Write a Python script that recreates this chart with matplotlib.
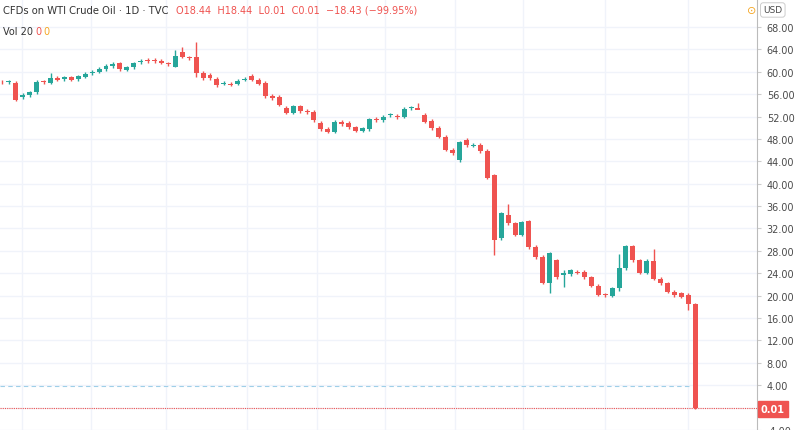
import matplotlib.pyplot as plt
from matplotlib.patches import Rectangle

# daily candles, open/close/high/low
opens = [58.2, 58.1, 58.0, 55.5, 55.8, 56.3, 58.3, 58.0, 58.9, 58.7, 59.0, 58.7, 59.1, 59.8, 60.0,
         60.5, 61.0, 61.5, 60.4, 60.8, 61.7, 62.1, 62.1, 62.0, 61.5, 60.9, 63.5, 62.6, 62.7, 59.8,
         59.4, 58.7, 57.9, 57.9, 57.9, 58.6, 59.3, 58.6, 58.0, 55.7, 55.5, 53.6, 52.7, 53.8, 53.0,
         52.9, 50.9, 49.8, 49.3, 51.0, 50.9, 50.1, 49.5, 49.8, 51.6, 51.3, 52.2, 52.1, 52.0, 53.5,
         53.5, 52.3, 51.2, 50.0, 48.4, 46.1, 44.2, 47.8, 46.8, 47.0, 45.9, 41.5, 30.3, 34.4, 32.9,
         30.9, 33.3, 28.7, 26.9, 22.3, 26.3, 23.7, 23.9, 24.3, 24.3, 23.3, 21.8, 20.2, 20.0, 21.3,
         24.9, 28.8, 26.3, 24.1, 26.2, 23.0, 22.2, 20.7, 20.4, 20.2, 18.44]
closes = [58.1, 58.3, 55.0, 55.9, 56.3, 58.2, 58.2, 58.9, 58.6, 59.0, 58.6, 59.2, 59.6, 60.0, 60.5,
          61.0, 61.4, 60.5, 60.8, 61.5, 62.0, 61.9, 61.9, 61.6, 61.4, 62.8, 62.7, 62.4, 59.8, 58.9,
          58.8, 57.6, 58.0, 57.7, 58.4, 58.7, 58.6, 57.9, 55.7, 55.3, 54.1, 52.7, 53.8, 53.0, 52.8,
          51.3, 49.7, 49.3, 51.0, 50.7, 50.1, 49.5, 49.9, 51.5, 51.3, 52.0, 52.4, 51.9, 53.4, 53.6,
          53.1, 51.1, 49.9, 48.4, 46.1, 45.4, 47.4, 46.9, 46.9, 45.8, 41.1, 29.9, 34.7, 32.9, 30.9,
          33.1, 28.7, 26.9, 22.3, 27.6, 23.3, 24.0, 24.5, 24.1, 23.3, 21.8, 20.2, 20.1, 21.3, 24.9,
          28.8, 26.3, 24.1, 26.2, 23.0, 22.2, 20.7, 20.1, 19.8, 18.5, 0.01]
# extra wick extents where visible (index: (high, low))
wicks = {7: (59.7, 57.8), 25: (63.9, 60.9), 26: (64.4, 62.5), 28: (65.3, 59.0), 71: (41.8, 27.2),
         73: (36.4, 32.6), 79: (27.8, 20.5), 81: (24.5, 21.5), 89: (27.5, 20.9), 94: (28.4, 22.8),
         60: (54.5, 53.3), 66: (47.6, 43.8), 99: (20.4, 17.5)}
vgrid = [2.9, 12.9, 23.6, 35.4, 45.4, 55.3, 65.3, 75.1, 87.0, 98.9]
yticks = list(range(-4, 72, 4))

GREEN, RED = '#26a69a', '#ef5350'

fig = plt.figure(figsize=(8, 4.31), dpi=100)
ax = fig.add_axes([0, 0, 757 / 800, 1])
ax.set_xlim(-0.29, 108.9)
ax.set_ylim(-3.7, 73.0)

for x in vgrid:
    ax.axvline(x, color='#f0f3fa', lw=1, zorder=0)
for t in yticks:
    ax.axhline(t, color='#f0f3fa', lw=1, zorder=0)

for i, (o, c) in enumerate(zip(opens, closes)):
    col = GREEN if c >= o else RED
    hi, lo = wicks.get(i, (max(o, c) + 0.3, min(o, c) - 0.3))
    ax.vlines(i, lo, hi, color=col, lw=1, zorder=2)
    h = max(abs(c - o), 0.12)
    ax.add_patch(Rectangle((i - 0.36, min(o, c)), 0.72, h, color=col, lw=0, zorder=3))

# price line and volume line
ax.axhline(0.01, color=RED, lw=0.8, ls=(0, (1, 1)), zorder=1)
ax.plot([-0.29, 99.5], [3.9, 3.9], color='#9fcfe8', lw=0.8, ls=(0, (4, 3)), zorder=1)

ax.set_yticks(yticks)
ax.yaxis.tick_right()
ax.set_yticklabels(['' if t == 0 else '%.2f' % t for t in yticks], fontsize=7, color='#4a4a4a')
ax.tick_params(axis='y', length=3, color='#cccccc', pad=4)
ax.set_xticks([])
for s in ['top', 'left', 'bottom']:
    ax.spines[s].set_visible(False)
ax.spines['right'].set_color('#bbbbbb')

ax.text(1.005, (0.01 + 3.7) / 76.7, '0.01', transform=ax.transAxes, fontsize=7,
        color='white', fontweight='bold', va='center', ha='left',
        bbox=dict(boxstyle='square,pad=0.3', fc=RED, ec=RED))
fig.text(0.966, 0.985, 'USD', fontsize=6.5, color='#4a4a4a', va='top', ha='center',
         bbox=dict(boxstyle='round,pad=0.3', fc='white', ec='#cccccc', lw=0.7))

fig.text(0.004, 0.975, 'CFDs on WTI Crude Oil · 1D · TVC', fontsize=7.2, color='#333333', va='center')
fig.text(0.22, 0.975, 'O18.44  H18.44  L0.01  C0.01  −18.43 (−99.95%)', fontsize=7,
         color=RED, va='center')
fig.text(0.004, 0.925, 'Vol 20', fontsize=7, color='#333333', va='center')
fig.text(0.044, 0.925, '0', fontsize=7, color=RED, va='center')
fig.text(0.054, 0.925, '0', fontsize=7, color='#f5a623', va='center')
fig.text(0.94, 0.975, '⊙', fontsize=8, color='#f5a623', va='center', ha='center')

fig.savefig('out.png', dpi=100)
